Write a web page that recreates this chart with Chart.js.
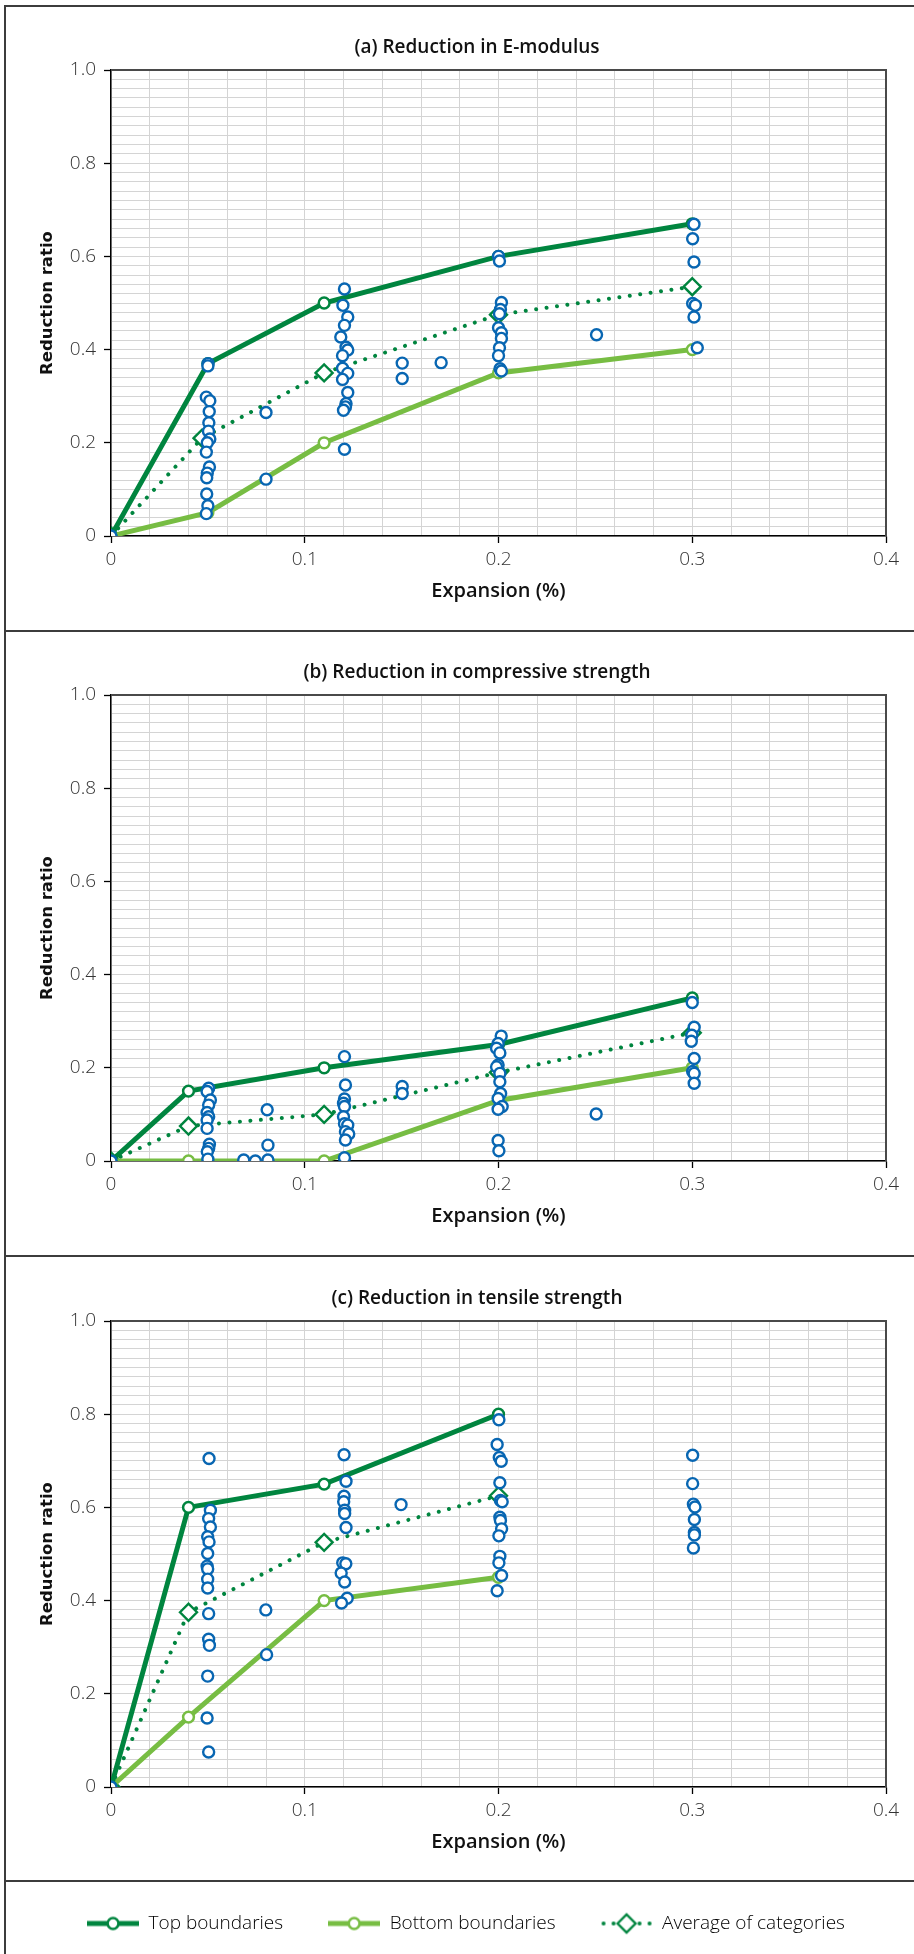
<!DOCTYPE html>
<html>
<head>
<meta charset="utf-8">
<script src="https://cdn.jsdelivr.net/npm/chart.js@4.4.1/dist/chart.umd.min.js"></script>
<style>
  html, body { margin: 0; padding: 0; background: #fff; overflow: hidden; }
  body { width: 914px; height: 1954px; position: relative; }
  canvas { position: absolute; left: 0; }
  .rule { position: absolute; background: #3c3c3c; }
</style>
</head>
<body>
<canvas id="chartA" width="914" height="625" style="top:5px"></canvas>
<canvas id="chartB" width="914" height="625" style="top:630px"></canvas>
<canvas id="chartC" width="914" height="625" style="top:1256px"></canvas>
<canvas id="legend" width="914" height="140" style="top:1869px"></canvas>

<div class="rule" style="left:4px; top:5px; width:910px; height:2px"></div>
<div class="rule" style="left:4px; top:5px; width:1.5px; height:1949px"></div>
<div class="rule" style="left:4px; top:630px; width:910px; height:2px"></div>
<div class="rule" style="left:4px; top:1255px; width:910px; height:2px"></div>
<div class="rule" style="left:4px; top:1880px; width:910px; height:2px"></div>

<script>
// (a) E-modulus: boundary curves, category averages and individual tests
const eModX = [0, 0.05, 0.11, 0.2, 0.3];
const eModTop = [0, 0.37, 0.5, 0.6, 0.67];
const eModBottom = [0, 0.05, 0.2, 0.35, 0.4];
const eModAvgX = [0, 0.047, 0.11, 0.2, 0.3];
const eModAvg = [0, 0.21, 0.35, 0.475, 0.535];
const eModTestX = [0,
  0.0501, 0.0500, 0.0492, 0.0510, 0.0507, 0.0505, 0.0503, 0.0510, 0.0497, 0.0492, 0.0508, 0.0497, 0.0494, 0.0494, 0.0500, 0.0492,
  0.0800, 0.0800,
  0.1205, 0.1197, 0.1222, 0.1205, 0.1186, 0.1213, 0.1222, 0.1195, 0.1195, 0.1222, 0.1195, 0.1222, 0.1213, 0.1210, 0.1200, 0.1205,
  0.1503, 0.1503, 0.1704,
  0.2000, 0.2005, 0.2015, 0.2010, 0.2005, 0.2000, 0.2015, 0.2015, 0.2005, 0.2000, 0.2008, 0.2015,
  0.2506,
  0.3009, 0.3002, 0.3009, 0.3002, 0.3016, 0.3009, 0.3026];
const eModTestY = [0,
  0.37, 0.365, 0.298, 0.29, 0.267, 0.243, 0.225, 0.208, 0.2, 0.18, 0.148, 0.135, 0.125, 0.09, 0.065, 0.048,
  0.265, 0.122,
  0.53, 0.495, 0.47, 0.452, 0.427, 0.405, 0.399, 0.387, 0.36, 0.349, 0.336, 0.308, 0.284, 0.277, 0.27, 0.186,
  0.371, 0.338, 0.372,
  0.6, 0.59, 0.501, 0.486, 0.477, 0.447, 0.436, 0.424, 0.404, 0.387, 0.359, 0.354,
  0.432,
  0.669, 0.638, 0.588, 0.499, 0.495, 0.47, 0.404];

// (b) compressive strength
const compX = [0, 0.04, 0.11, 0.2, 0.3];
const compTop = [0, 0.15, 0.2, 0.25, 0.35];
const compBottom = [0, 0, 0, 0.13, 0.2];
const compAvg = [0, 0.075, 0.1, 0.19, 0.275];
const compTestX = [0,
  0.0504, 0.0496, 0.0513, 0.0504, 0.0496, 0.0504, 0.0496, 0.0496, 0.0508, 0.0504, 0.0497, 0.0500,
  0.0685, 0.0745, 0.0810, 0.0810, 0.0806,
  0.1205, 0.1210, 0.1205, 0.1200, 0.1205, 0.1200, 0.1205, 0.1222, 0.1210, 0.1227, 0.1210, 0.1205,
  0.1503, 0.1503,
  0.2014, 0.1998, 0.1990, 0.2007, 0.1998, 0.1990, 0.2007, 0.2007, 0.2011, 0.1998, 0.2019, 0.1998, 0.1998, 0.2002,
  0.2504,
  0.3000, 0.3010, 0.2998, 0.2995, 0.3010, 0.3002, 0.3010, 0.3010];
const compTestY = [0,
  0.156, 0.149, 0.131, 0.12, 0.104, 0.095, 0.088, 0.07, 0.036, 0.027, 0.02, 0.004,
  0.002, 0, 0.002, 0.034, 0.11,
  0.224, 0.163, 0.133, 0.124, 0.117, 0.095, 0.08, 0.077, 0.063, 0.058, 0.045, 0.007,
  0.16, 0.145,
  0.268, 0.252, 0.242, 0.232, 0.206, 0.202, 0.188, 0.17, 0.145, 0.134, 0.117, 0.111, 0.044, 0.022,
  0.101,
  0.34, 0.287, 0.27, 0.257, 0.22, 0.192, 0.188, 0.167];

// (c) tensile strength
const tensX = [0, 0.04, 0.11, 0.2];
const tensTop = [0, 0.6, 0.65, 0.8];
const tensBottom = [0, 0.15, 0.4, 0.45];
const tensAvg = [0, 0.375, 0.525, 0.625];
const tensTestX = [0,
  0.0506, 0.0513, 0.0504, 0.0513, 0.0499, 0.0506, 0.0499, 0.0496, 0.0499, 0.0499, 0.0499, 0.0504, 0.0504, 0.0508, 0.0499, 0.0496, 0.0504,
  0.0799, 0.0803,
  0.1203, 0.1213, 0.1203, 0.1201, 0.1206, 0.1206, 0.1213, 0.1196, 0.1212, 0.1188, 0.1206, 0.1219, 0.1190,
  0.1497,
  0.2002, 0.1993, 0.2004, 0.2014, 0.2007, 0.2010, 0.2019, 0.2007, 0.2010, 0.2016, 0.2002, 0.2007, 0.2002, 0.2016, 0.1993,
  0.3002, 0.3002, 0.3006, 0.3014, 0.3011, 0.3011, 0.3011, 0.3006];
const tensTestY = [0,
  0.705, 0.594, 0.576, 0.558, 0.537, 0.526, 0.501, 0.474, 0.468, 0.446, 0.427, 0.372, 0.317, 0.304, 0.238, 0.148, 0.075,
  0.38, 0.284,
  0.713, 0.656, 0.624, 0.612, 0.594, 0.587, 0.557, 0.481, 0.479, 0.459, 0.44, 0.405, 0.395,
  0.606,
  0.788, 0.735, 0.707, 0.699, 0.653, 0.615, 0.612, 0.579, 0.572, 0.554, 0.539, 0.495, 0.481, 0.454, 0.421,
  0.712, 0.651, 0.607, 0.601, 0.574, 0.546, 0.541, 0.513];

const GREEN_DARK = '#00853f';
const GREEN_LIGHT = '#77bd43';
const BLUE = '#0866b2';
const GRID = '#d4d4d4';
const TICK_FONT = { family: '"Open Sans", "DejaVu Sans", sans-serif', size: 19, weight: 300 };
const HEAD_FONT = '600 19px "Open Sans", "DejaVu Sans", sans-serif';

function pts(xs, ys) {
  return xs.map((x, i) => ({ x, y: ys[i] }));
}

function isMajor(v, step) {
  return Math.abs(v / step - Math.round(v / step)) < 1e-6;
}

function tickText(v) {
  if (Math.abs(v) < 1e-9) return '0';
  return v.toFixed(1);
}

// plot frame on top/right plus the panel heading
const panelDecor = {
  id: 'panelDecor',
  beforeDatasetsDraw(chart) {
    const { ctx, chartArea: a } = chart;
    ctx.save();
    ctx.strokeStyle = '#4a4a4a';
    ctx.lineWidth = 2;
    ctx.beginPath();
    ctx.moveTo(a.left, a.top);
    ctx.lineTo(a.right, a.top);
    ctx.lineTo(a.right, a.bottom);
    ctx.stroke();
    ctx.restore();
  },
  afterDraw(chart, args, opts) {
    if (!opts.text) return;
    const { ctx } = chart;
    ctx.save();
    ctx.font = HEAD_FONT;
    ctx.fillStyle = '#111';
    ctx.textAlign = 'center';
    ctx.textBaseline = 'middle';
    ctx.fillText(opts.text, opts.x, opts.y);
    ctx.restore();
  }
};

function makePanel(id, title, lineX, top, bottom, avgX, avg, testX, testY) {
  return new Chart(document.getElementById(id), {
    type: 'scatter',
    data: {
      datasets: [
        {
          label: 'Tests',
          data: pts(testX, testY),
          pointRadius: 5.5,
          pointBorderWidth: 2.4,
          pointBorderColor: BLUE,
          pointBackgroundColor: '#fff'
        },
        {
          label: 'Top boundaries',
          data: pts(lineX, top),
          showLine: true,
          borderColor: GREEN_DARK,
          borderWidth: 5,
          pointRadius: 5.4,
          pointBorderWidth: 2.5,
          pointBorderColor: GREEN_DARK,
          pointBackgroundColor: '#fff'
        },
        {
          label: 'Bottom boundaries',
          data: pts(lineX, bottom),
          showLine: true,
          borderColor: GREEN_LIGHT,
          borderWidth: 5,
          pointRadius: 5.4,
          pointBorderWidth: 2.5,
          pointBorderColor: GREEN_LIGHT,
          pointBackgroundColor: '#fff'
        },
        {
          label: 'Average of categories',
          data: pts(avgX, avg),
          showLine: true,
          borderColor: GREEN_DARK,
          borderWidth: 4,
          borderDash: [0.01, 10.5],
          borderCapStyle: 'round',
          pointStyle: 'rectRot',
          pointRadius: 8.5,
          pointBorderWidth: 2.4,
          pointBorderColor: GREEN_DARK,
          pointBackgroundColor: '#fff'
        }
      ]
    },
    options: {
      responsive: false,
      animation: false,
      events: [],
      layout: { padding: { top: 65, right: 28, bottom: 24, left: 0 } },
      scales: {
        x: {
          type: 'linear',
          min: 0,
          max: 0.4,
          afterFit(s) { s.height = 70; },
          ticks: {
            stepSize: 0.02,
            autoSkip: false,
            maxRotation: 0,
            padding: 5,
            color: '#333',
            font: TICK_FONT,
            callback: v => isMajor(v, 0.1) ? tickText(v) : ''
          },
          grid: {
            color: GRID,
            lineWidth: 1,
            tickLength: 7,
            tickWidth: 1.3,
            tickColor: c => isMajor(c.tick.value, 0.1) ? '#000' : 'rgba(0,0,0,0)'
          },
          border: { color: '#000', width: 1.5 },
          title: {
            display: true,
            text: 'Expansion (%)',
            color: '#111',
            font: { family: '"Open Sans", "DejaVu Sans", sans-serif', size: 20, weight: 600 },
            padding: { top: 0, bottom: 3 }
          }
        },
        y: {
          type: 'linear',
          min: 0,
          max: 1,
          afterFit(s) { s.width = 111; },
          ticks: {
            stepSize: 0.02,
            autoSkip: false,
            padding: 8,
            color: '#333',
            font: TICK_FONT,
            callback: v => isMajor(v, 0.2) ? tickText(v) : ''
          },
          grid: {
            color: GRID,
            lineWidth: 1,
            tickLength: 7,
            tickWidth: 1.3,
            tickColor: c => isMajor(c.tick.value, 0.2) ? '#000' : 'rgba(0,0,0,0)'
          },
          border: { color: '#000', width: 1.5 },
          title: {
            display: true,
            text: 'Reduction ratio',
            color: '#111',
            font: { family: '"DejaVu Sans", sans-serif', size: 16.5, weight: 'bold' },
            padding: { top: 38, bottom: 0 }
          }
        }
      },
      plugins: {
        legend: { display: false },
        tooltip: { enabled: false },
        panelDecor: { text: title, x: 477, y: 43 }
      }
    },
    plugins: [panelDecor]
  });
}

makePanel('chartA', '(a) Reduction in E-modulus', eModX, eModTop, eModBottom, eModAvgX, eModAvg, eModTestX, eModTestY);
makePanel('chartB', '(b) Reduction in compressive strength', compX, compTop, compBottom, compX, compAvg, compTestX, compTestY);
makePanel('chartC', '(c) Reduction in tensile strength', tensX, tensTop, tensBottom, tensX, tensAvg, tensTestX, tensTestY);

// legend swatches: line with its marker in the middle
function legendIcon(kind) {
  const c = document.createElement('canvas');
  c.width = 52;
  c.height = 24;
  const g = c.getContext('2d');
  const cy = 12;
  if (kind === 'avg') {
    g.fillStyle = GREEN_DARK;
    [3, 13, 39, 49].forEach(x => {
      g.beginPath();
      g.arc(x, cy, 2, 0, Math.PI * 2);
      g.fill();
    });
    g.beginPath();
    g.moveTo(17, cy);
    g.lineTo(26, cy - 9);
    g.lineTo(35, cy);
    g.lineTo(26, cy + 9);
    g.closePath();
    g.fillStyle = '#fff';
    g.fill();
    g.lineWidth = 2.4;
    g.strokeStyle = GREEN_DARK;
    g.stroke();
  } else {
    const col = kind === 'top' ? GREEN_DARK : GREEN_LIGHT;
    g.strokeStyle = col;
    g.lineWidth = 5;
    g.beginPath();
    g.moveTo(0, cy);
    g.lineTo(52, cy);
    g.stroke();
    g.beginPath();
    g.arc(26, cy, 5.4, 0, Math.PI * 2);
    g.fillStyle = '#fff';
    g.fill();
    g.lineWidth = 2.5;
    g.stroke();
  }
  return c;
}

const legendIcons = [legendIcon('top'), legendIcon('bottom'), legendIcon('avg')];

new Chart(document.getElementById('legend'), {
  type: 'scatter',
  data: {
    datasets: [
      { label: 'Top boundaries', data: [], borderColor: GREEN_DARK },
      { label: 'Bottom boundaries', data: [], borderColor: GREEN_LIGHT },
      { label: 'Average of categories', data: [], borderColor: GREEN_DARK }
    ]
  },
  options: {
    responsive: false,
    animation: false,
    events: [],
    layout: { padding: { top: 0, left: 18, right: 0, bottom: 0 } },
    scales: { x: { display: false }, y: { display: false } },
    plugins: {
      tooltip: { enabled: false },
      legend: {
        position: 'top',
        labels: {
          usePointStyle: true,
          pointStyleWidth: 52,
          padding: 45,
          color: '#333',
          font: { family: '"Open Sans", "DejaVu Sans", sans-serif', size: 19, weight: 300 },
          generateLabels: chart => chart.data.datasets.map((d, i) => ({
            text: d.label,
            pointStyle: legendIcons[i],
            datasetIndex: i,
            hidden: false,
            lineWidth: 0,
            fillStyle: 'rgba(0,0,0,0)',
            strokeStyle: 'rgba(0,0,0,0)'
          }))
        }
      }
    }
  }
});
</script>
</body>
</html>
